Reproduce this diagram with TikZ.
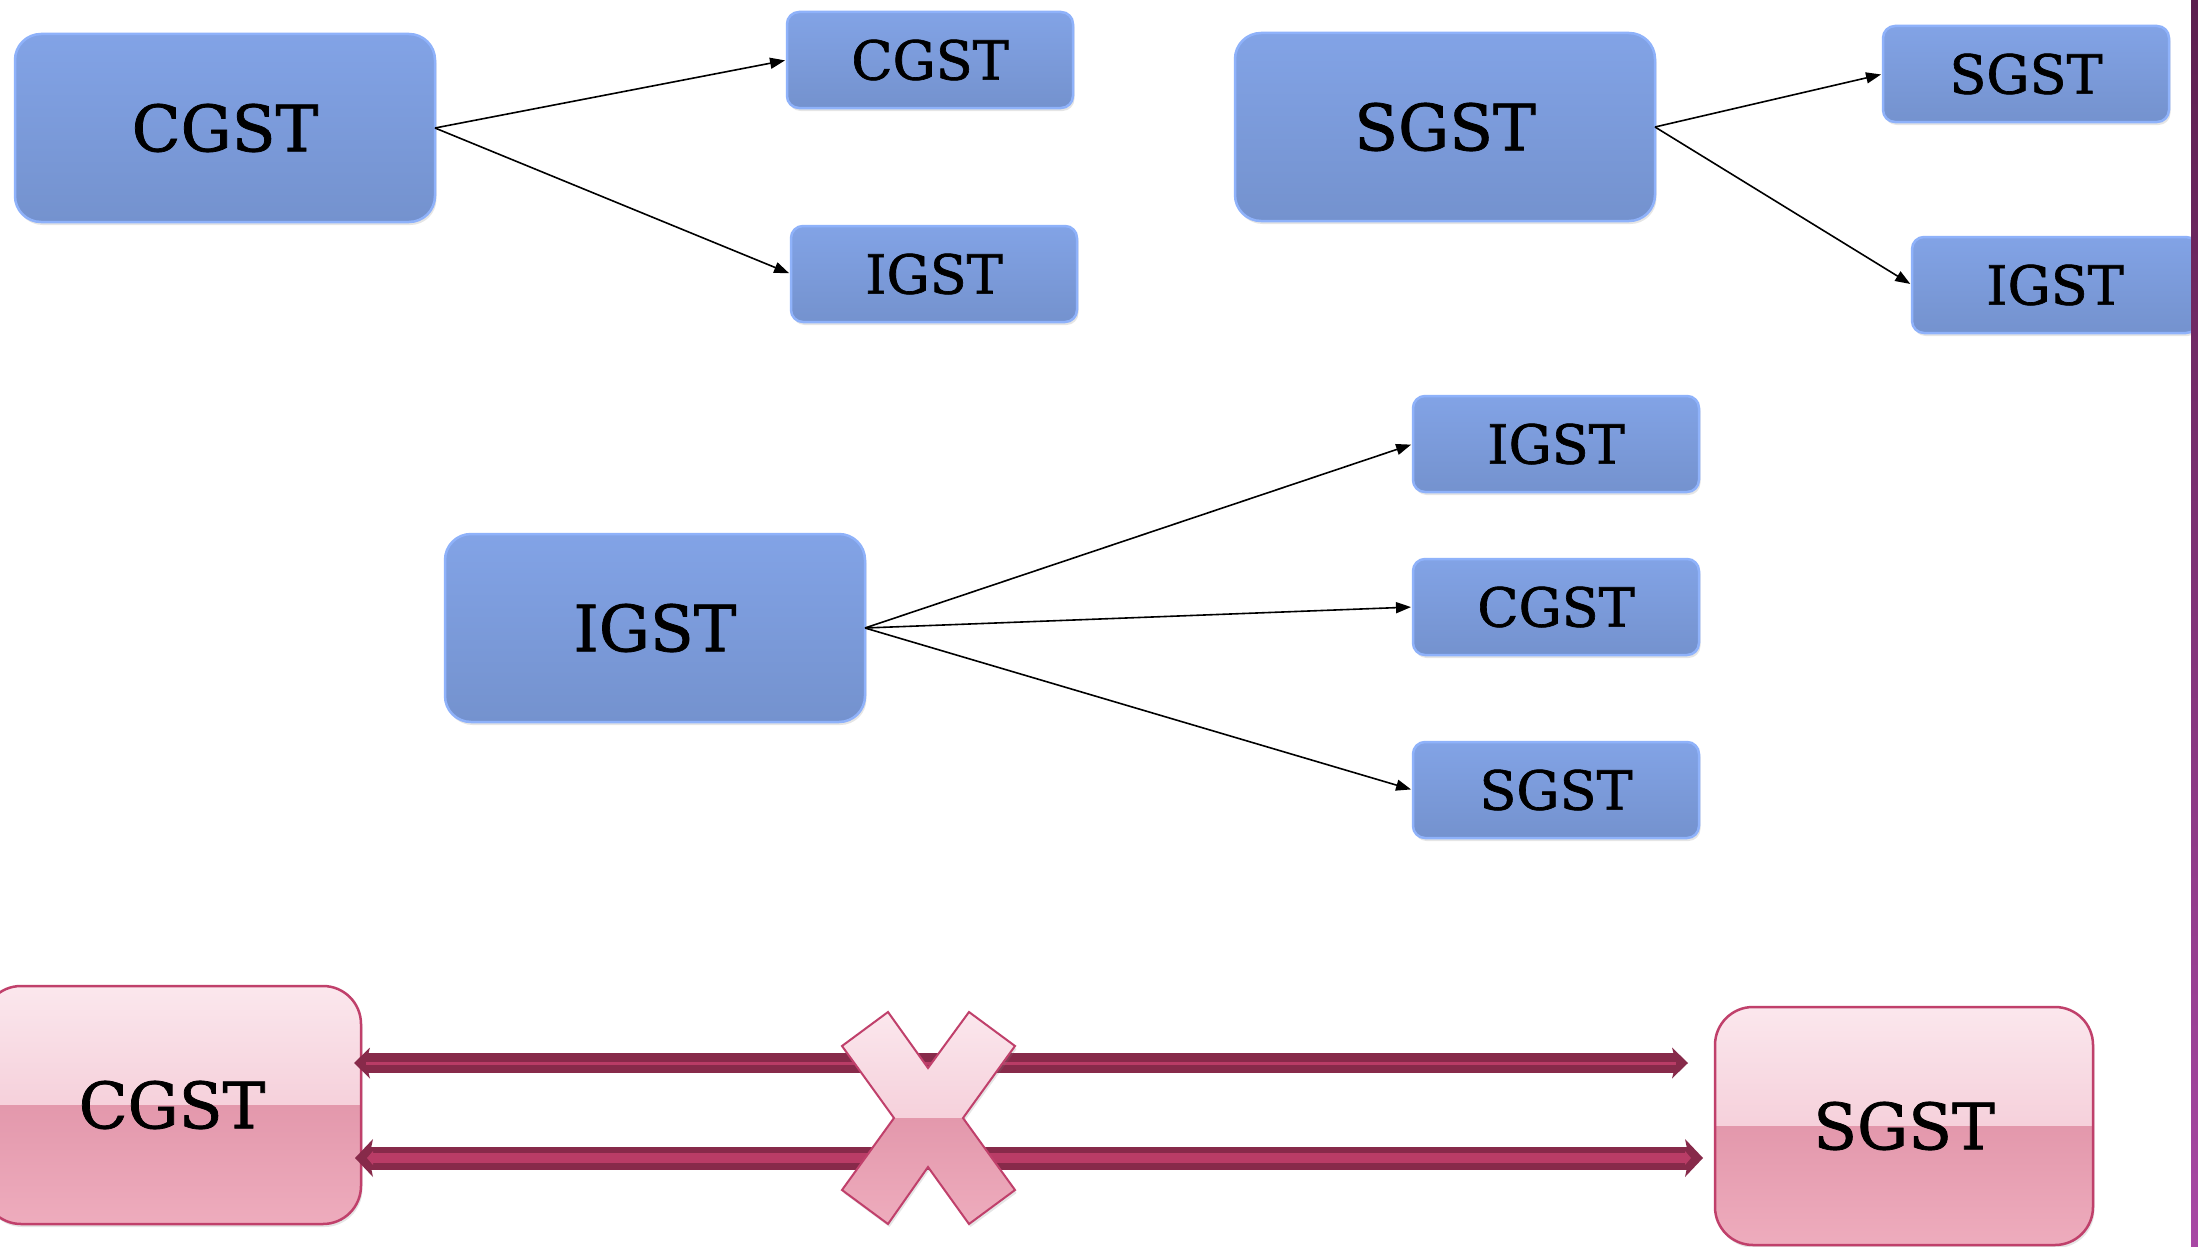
\documentclass[tikz,border=0pt]{standalone}
\usepackage{fontspec}
\setmainfont{DejaVu Serif}[FakeBold=1.2]
\usetikzlibrary{arrows.meta,shadows}
\definecolor{bluetop}{RGB}{130,163,230}
\definecolor{bluemid}{RGB}{123,156,220}
\definecolor{bluebot}{RGB}{116,146,206}
\definecolor{blueedge}{RGB}{143,178,250}
\definecolor{pinkA}{RGB}{251,231,237}
\definecolor{pinkB}{RGB}{240,186,201}
\definecolor{pinkC}{RGB}{227,152,172}
\definecolor{pinkD}{RGB}{238,172,189}
\definecolor{pinkedge}{RGB}{192,64,107}
\definecolor{arrdark}{RGB}{135,42,74}
\definecolor{arrlight}{RGB}{185,60,102}
\definecolor{bartop}{RGB}{92,30,78}
\definecolor{barbot}{RGB}{168,72,164}
\tikzset{
  bluebig/.style={rectangle, rounded corners=26pt, minimum width=420pt, minimum height=188pt,
    inner sep=0pt, outer sep=0pt, top color=bluetop, middle color=bluemid, bottom color=bluebot,
    draw=blueedge, line width=2.5pt, font=\fontsize{64}{70}\selectfont,
    drop shadow={shadow xshift=1.5pt, shadow yshift=-3pt, opacity=0.2}},
  bluesmall/.style={bluebig, rounded corners=12pt, minimum width=286pt, minimum height=96pt,
    font=\fontsize{54}{60}\selectfont},
  pinkhalves/.style={path picture={
      \fill[sharp corners, top color=pinkA, bottom color=pinkB] (path picture bounding box.north west) rectangle (path picture bounding box.east);
      \fill[sharp corners, top color=pinkC, bottom color=pinkD] (path picture bounding box.west) rectangle (path picture bounding box.south east);}},
  pinkbox/.style={rectangle, rounded corners=38pt, minimum width=378pt, minimum height=238pt,
    inner sep=0pt, outer sep=0pt, draw=pinkedge, line width=2.5pt, pinkhalves,
    font=\fontsize{64}{70}\selectfont,
    drop shadow={shadow xshift=1.5pt, shadow yshift=-3pt, opacity=0.2}},
  conn/.style={line width=1.6pt, draw=black, -{Triangle[length=15pt,width=11pt]}, shorten >=2pt},
  fatA/.style={draw=arrdark, line width=20pt,
    {Stealth[length=16pt,width=31pt,inset=4pt,line width=0pt]}-{Stealth[length=16pt,width=31pt,inset=4pt,line width=0pt]}},
  fatB/.style={draw=arrdark, line width=23pt,
    {Stealth[length=18pt,width=38pt,inset=4pt,line width=0pt]}-{Stealth[length=18pt,width=38pt,inset=4pt,line width=0pt]}},
  stripeA/.style={draw=arrlight, line width=3pt, shorten <=12pt, shorten >=12pt},
  stripeB/.style={draw=arrlight, line width=10pt, shorten <=12pt, shorten >=12pt,
    {Triangle[length=6pt,width=14pt,line width=0pt]}-{Triangle[length=6pt,width=14pt,line width=0pt]}},
}
\begin{document}
\begin{tikzpicture}[x=1pt,y=-1pt]
\fill[white] (0,0) rectangle (2198,1247);
\useasboundingbox (0,0) rectangle (2198,1247);

% top-left group
\node[bluebig] (cg) at (225,128) {CGST};
\node[bluesmall] (cg1) at (930,60) {CGST};
\node[bluesmall] (cg2) at (934,274) {IGST};
\draw[conn] (cg.east) -- (cg1.west);
\draw[conn] (cg.east) -- (cg2.west);

% top-right group
\node[bluebig] (sg) at (1445,127) {SGST};
\node[bluesmall] (sg1) at (2026,74) {SGST};
\node[bluesmall] (sg2) at (2055,285) {IGST};
\draw[conn] (sg.east) -- (sg1.west);
\draw[conn] (sg.east) -- (sg2.west);

% middle group
\node[bluebig] (ig) at (655,628) {IGST};
\node[bluesmall] (ig1) at (1556,444) {IGST};
\node[bluesmall] (ig2) at (1556,607) {CGST};
\node[bluesmall] (ig3) at (1556,790) {SGST};
\draw[conn] (ig.east) -- (ig1.west);
\draw[conn] (ig.east) -- (ig2.west);
\draw[conn] (ig.east) -- (ig3.west);

% bottom pink boxes
\node[pinkbox] (cgp) at (172,1105) {CGST};
\node[pinkbox] (sgp) at (1904,1126) {SGST};

% thick double arrows
\draw[fatA] ([xshift=-7pt,yshift=42pt]cgp.east) -- ([xshift=-27pt,yshift=63pt]sgp.west);
\draw[stripeA] ([xshift=-7pt,yshift=42pt]cgp.east) -- ([xshift=-27pt,yshift=63pt]sgp.west);
\draw[fatB] ([xshift=-6pt,yshift=-53pt]cgp.east) -- ([xshift=-12pt,yshift=-32pt]sgp.west);
\draw[stripeB] ([xshift=-6pt,yshift=-53pt]cgp.east) -- ([xshift=-12pt,yshift=-32pt]sgp.west);

% the cross
\draw[draw=pinkedge, line width=2pt, line join=miter, pinkhalves,
      drop shadow={shadow xshift=1.5pt, shadow yshift=-3pt, opacity=0.2}]
  (888,1012) -- (928,1068) -- (969,1012) -- (1015,1046) -- (963,1118) -- (1015,1190)
  -- (969,1224) -- (928,1167) -- (888,1224) -- (842,1190) -- (894,1118) -- (842,1046) -- cycle;

% right edge bar
\shade[top color=bartop, bottom color=barbot] (2191,0) rectangle (2198,1247);
\end{tikzpicture}
\end{document}
